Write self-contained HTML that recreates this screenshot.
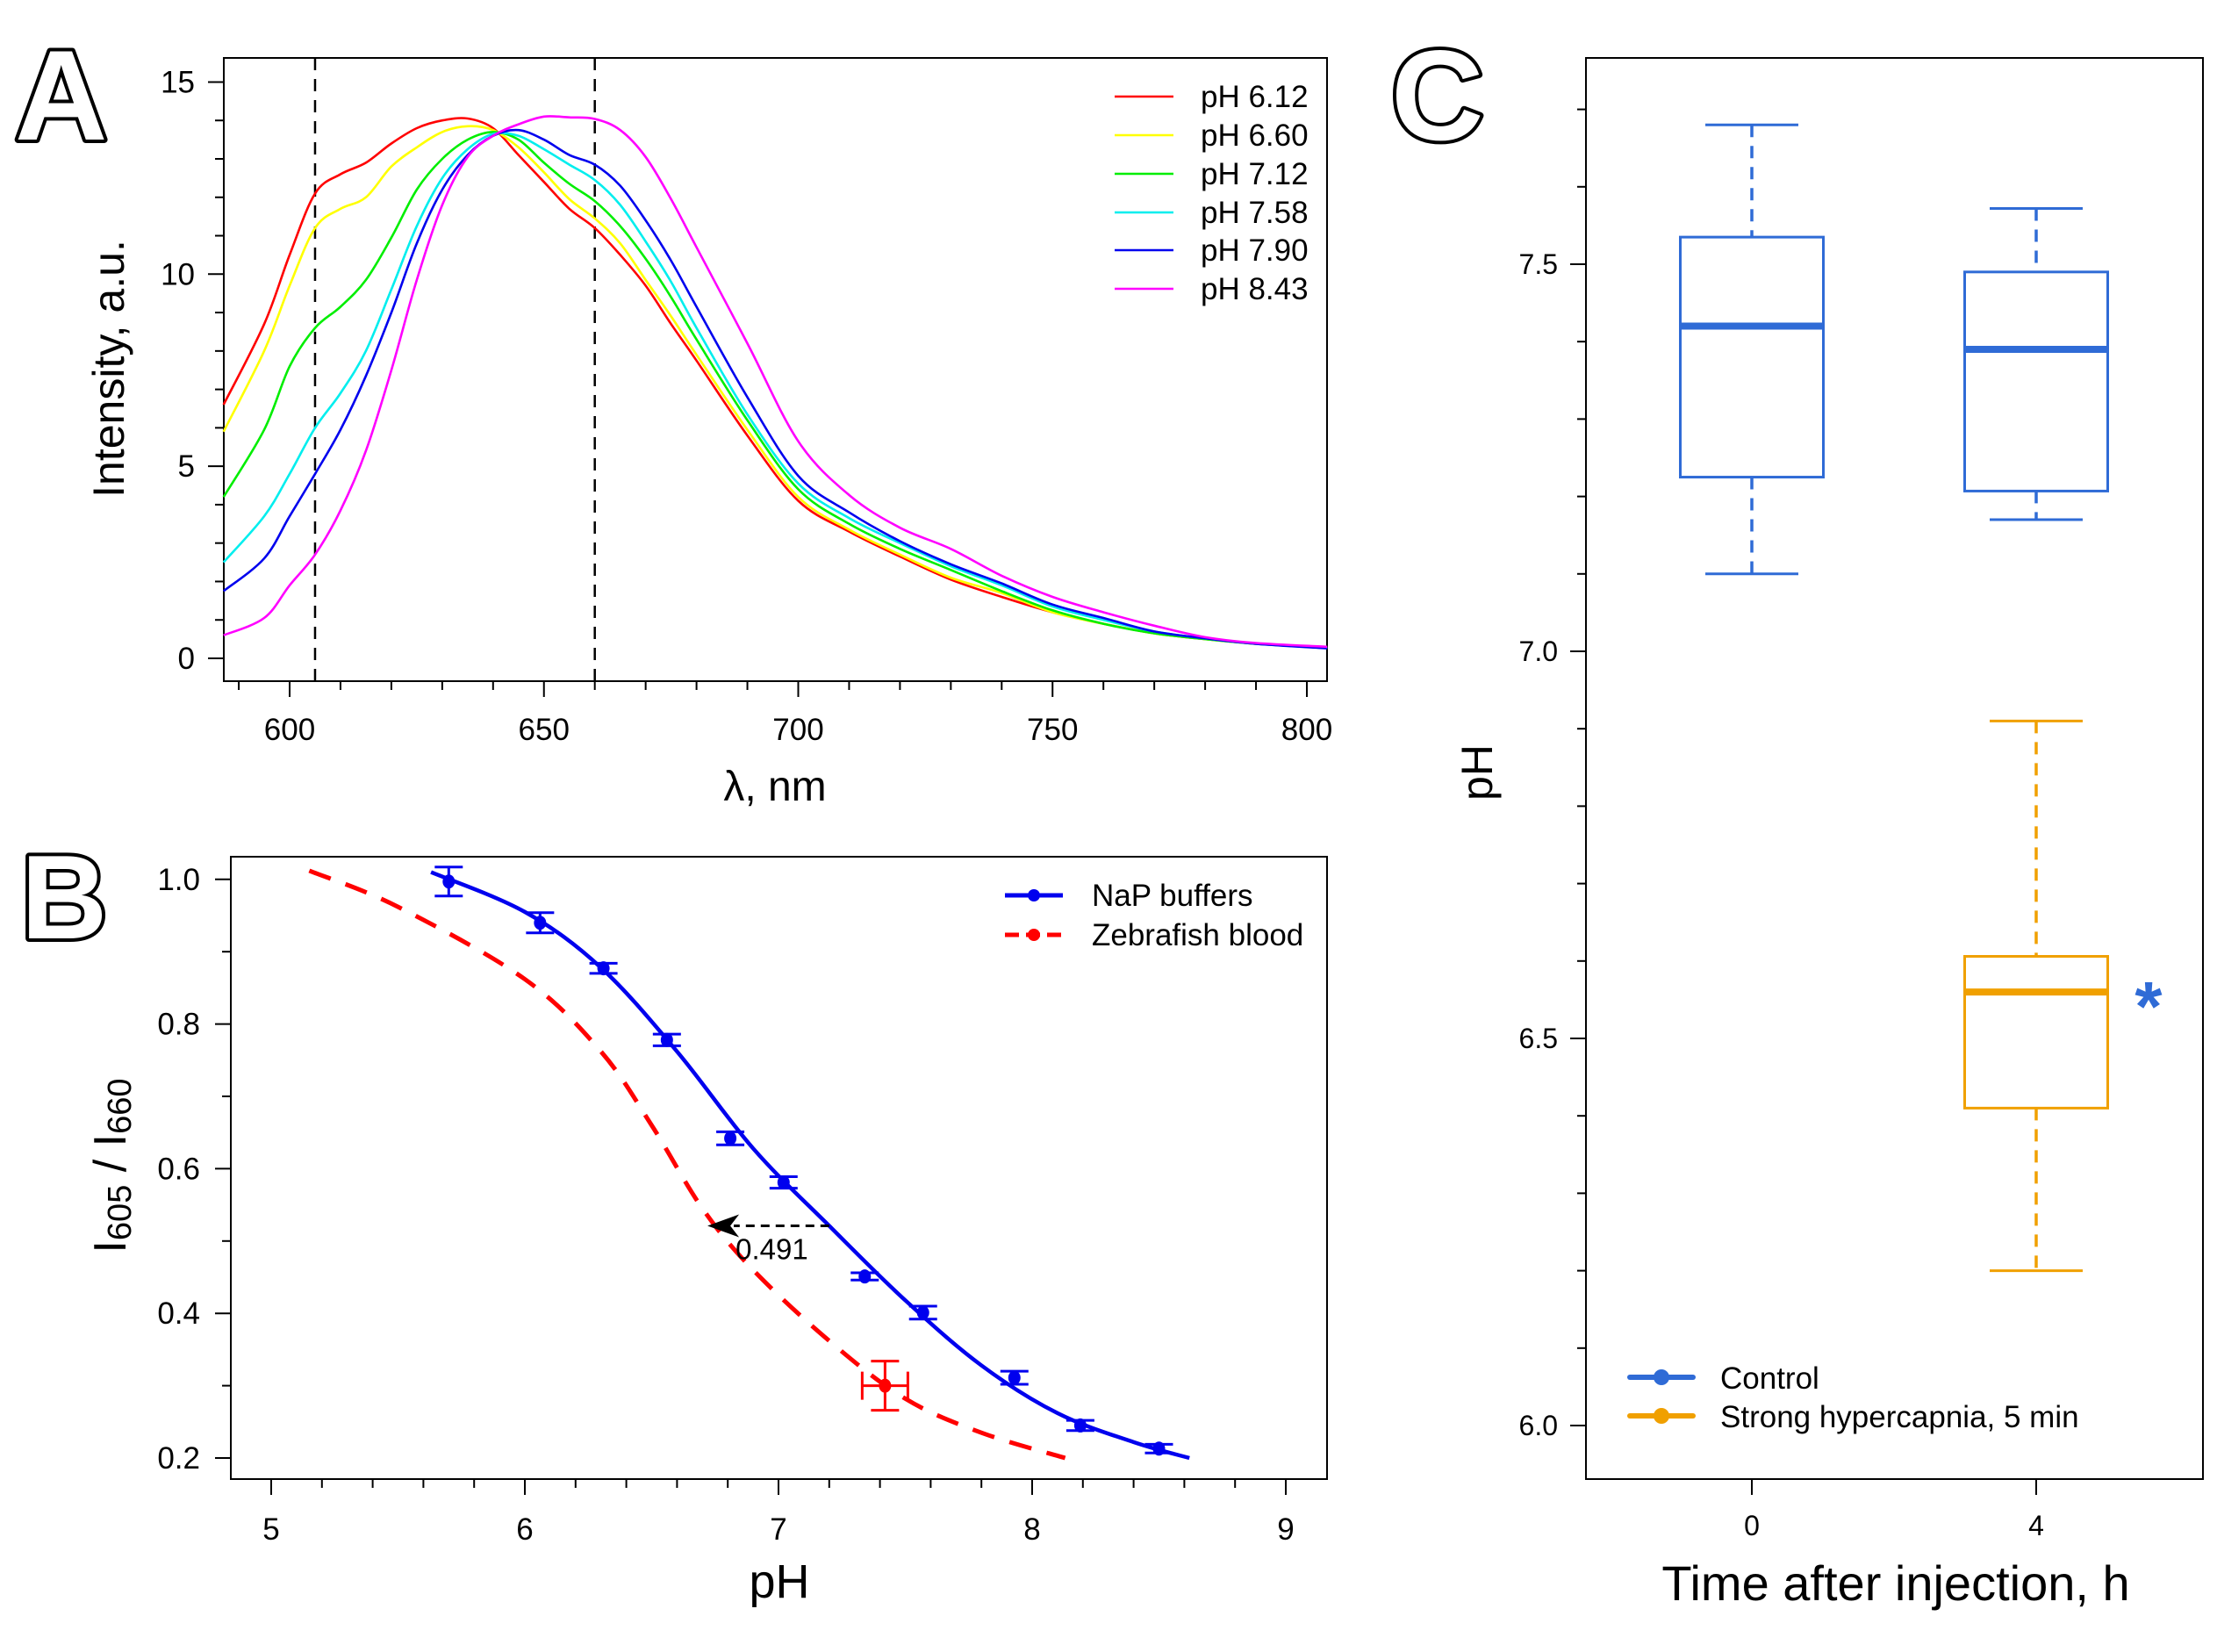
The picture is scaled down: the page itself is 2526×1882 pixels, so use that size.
<!DOCTYPE html>
<html><head><meta charset="utf-8"><title>pH sensor figure</title>
<style>
html,body{margin:0;padding:0;background:#fff;}
svg{display:block;font-family:"Liberation Sans",Arial,sans-serif;}
</style></head>
<body>
<svg id="fig" width="2526" height="1882" viewBox="0 0 2526 1882" xmlns="http://www.w3.org/2000/svg">
<rect x="0" y="0" width="2526" height="1882" fill="#fff"/>
<text x="17" y="159" font-size="146" font-weight="bold" fill="#fff" stroke="#000" stroke-width="8" stroke-linejoin="round" paint-order="stroke">A</text>
<text x="24" y="1069" font-size="136" font-weight="bold" fill="#fff" stroke="#000" stroke-width="8" stroke-linejoin="round" paint-order="stroke">B</text>
<text x="1585" y="159" font-size="146" font-weight="bold" fill="#fff" stroke="#000" stroke-width="8" stroke-linejoin="round" paint-order="stroke">C</text>
<g id="pa"></g>
<g id="pb"></g>
<g id="pc"></g>
</svg>
<script>
// ---------- Panel A data ----------
const wavelengths = [587,595,600,605,610,615,620,625,630,635,640,645,650,655,660,665,670,675,680,690,700,710,720,730,740,750,760,770,780,790,804];
const spec612 = [6.6,8.7,10.5,12.1,12.6,12.9,13.4,13.8,14.0,14.05,13.8,13.1,12.4,11.7,11.2,10.5,9.7,8.7,7.75,5.8,4.1,3.3,2.65,2.05,1.6,1.2,0.9,0.65,0.5,0.38,0.27];
const spec660 = [5.9,8.0,9.7,11.2,11.7,12.0,12.8,13.3,13.7,13.85,13.75,13.3,12.65,11.95,11.45,10.8,9.85,8.9,7.9,5.95,4.2,3.35,2.7,2.1,1.7,1.2,0.9,0.65,0.5,0.38,0.27];
const spec712 = [4.2,5.95,7.6,8.6,9.15,9.85,10.95,12.2,13.0,13.5,13.7,13.5,12.9,12.35,11.9,11.25,10.4,9.4,8.3,6.2,4.4,3.5,2.85,2.3,1.75,1.25,0.9,0.65,0.5,0.38,0.27];
const spec758 = [2.5,3.7,4.8,6.0,6.9,8.0,9.6,11.25,12.5,13.25,13.65,13.6,13.25,12.85,12.45,11.8,10.85,9.8,8.6,6.35,4.55,3.65,3.0,2.4,1.9,1.35,1.0,0.7,0.52,0.38,0.27];
const spec790 = [1.75,2.6,3.7,4.8,5.95,7.35,9.0,10.8,12.2,13.1,13.6,13.75,13.5,13.1,12.85,12.3,11.4,10.35,9.15,6.8,4.75,3.8,3.05,2.45,1.95,1.4,1.05,0.7,0.52,0.38,0.26];
const spec843 = [0.6,1.05,1.9,2.7,3.85,5.4,7.5,9.85,11.8,13.05,13.6,13.9,14.1,14.08,14.04,13.75,13.05,11.95,10.7,8.2,5.65,4.25,3.4,2.85,2.15,1.6,1.2,0.85,0.55,0.4,0.3];
const seriesLabels = ["pH 6.12","pH 6.60","pH 7.12","pH 7.58","pH 7.90","pH 8.43"];
const seriesColors = ["#ff0000","#ffff00","#00ee00","#00eeee","#0000ee","#ff00ff"];
const aXTicks = [600,650,700,750,800];
const aYTicks = [0,5,10,15];
const markerLines = [605,660];

// ---------- Panel B data ----------
const bufPH = [5.70,6.06,6.31,6.56,6.81,7.02,7.34,7.57,7.93,8.19,8.50];
const bufRatio = [0.997,0.940,0.877,0.778,0.642,0.581,0.451,0.401,0.311,0.245,0.213];
const bufErr = [0.020,0.014,0.007,0.008,0.009,0.008,0.005,0.009,0.009,0.007,0.006];
const fitBufPH = [5.63,6.0,6.3,6.6,6.9,7.2,7.5,7.8,8.1,8.4,8.62];
const fitBufRatio = [1.01,0.955,0.878,0.762,0.628,0.521,0.418,0.328,0.262,0.222,0.200];
const fitBloodPH = [5.15,5.5,6.0,6.3,6.5,6.7,6.9,7.2,7.5,7.8,8.13];
const fitBloodRatio = [1.012,0.962,0.862,0.762,0.66,0.545,0.46,0.362,0.282,0.235,0.20];
const bloodPH = [7.42];
const bloodRatio = [0.30];
const bloodYErr = [0.034];
const bloodXErr = [0.09];
const shiftFrom = [7.20];
const shiftTo = [6.72];
const shiftLevel = [0.521];
const shiftLabel = ["0.491"];
const bXTicks = [5,6,7,8,9];
const bYTicks = [0.2,0.4,0.6,0.8,1.0];

// ---------- Panel C data ----------
const groupTimes = [0,4,4];
const groupNames = ["control-0h","control-4h","hypercapnia-4h"];
const whiskHigh = [7.68,7.572,6.91];
const boxHigh = [7.535,7.49,6.606];
const medians = [7.42,7.39,6.56];
const boxLow = [7.225,7.207,6.41];
const whiskLow = [7.10,7.17,6.20];
const groupColors = ["#2f6bd6","#2f6bd6","#f0a000"];
const cYTicks = [6.0,6.5,7.0,7.5];
const cXTicks = [0,4];

const NS = "http://www.w3.org/2000/svg";
function mk(parent, tag, attrs, txt){
  const el = document.createElementNS(NS, tag);
  for (const k in attrs) el.setAttribute(k, attrs[k]);
  if (txt !== undefined) el.textContent = txt;
  parent.appendChild(el);
  return el;
}
function smoothPath(pts){
  let d = "M" + pts[0][0].toFixed(1) + "," + pts[0][1].toFixed(1);
  for (let i=0;i<pts.length-1;i++){
    const p0 = pts[Math.max(0,i-1)], p1 = pts[i], p2 = pts[i+1], p3 = pts[Math.min(pts.length-1,i+2)];
    const c1x = p1[0]+(p2[0]-p0[0])/6, c1y = p1[1]+(p2[1]-p0[1])/6;
    const c2x = p2[0]-(p3[0]-p1[0])/6, c2y = p2[1]-(p3[1]-p1[1])/6;
    d += " C"+c1x.toFixed(1)+","+c1y.toFixed(1)+" "+c2x.toFixed(1)+","+c2y.toFixed(1)+" "+p2[0].toFixed(1)+","+p2[1].toFixed(1);
  }
  return d;
}

// ================= Panel A =================
(function(){
  const g = document.getElementById('pa');
  const L=255, R=1512, T=66, B=776;
  const xA = v => 330 + (v-600)*5.795;
  const yA = v => 750 - v*43.77;
  let el;
  el = mk(g,'rect',{x:L,y:T,width:R-L,height:B-T,fill:'none',stroke:'#000','stroke-width':2});
  
  
  for (let w=590; w<=800; w+=10){
    const major = (w%50===0);
    el = mk(g,'line',{x1:xA(w),x2:xA(w),y1:B,y2:B+(major?18:10),stroke:'#000','stroke-width':2});
    
    
  }
  aXTicks.forEach(v=>{
    el = mk(g,'text',{x:xA(v),y:843,'font-size':35,'text-anchor':'middle'},String(v));
    
    
  });
  for (let v=0; v<=15; v++){
    const major = (v%5===0);
    el = mk(g,'line',{x1:L,x2:L-(major?18:10),y1:yA(v),y2:yA(v),stroke:'#000','stroke-width':2});
    
    
  }
  aYTicks.forEach(v=>{
    el = mk(g,'text',{x:222,y:yA(v)+12,'font-size':35,'text-anchor':'end'},String(v));
    
    
  });
  el = mk(g,'text',{x:883,y:912,'font-size':48,'text-anchor':'middle'},"λ, nm");
  
  
  el = mk(g,'text',{x:0,y:0,'font-size':50,'text-anchor':'middle',transform:'translate(141,420) rotate(-90)'},"Intensity, a.u.");
  
  
  markerLines.forEach(w=>{
    el = mk(g,'line',{x1:xA(w),x2:xA(w),y1:T,y2:B,stroke:'#000','stroke-width':2.5,'stroke-dasharray':'14,10'});
    
    
  });
  const allSpec = [spec612,spec660,spec712,spec758,spec790,spec843];
  allSpec.forEach((s,i)=>{
    const pts = wavelengths.map((w,j)=>[xA(w),yA(s[j])]);
    el = mk(g,'path',{d:smoothPath(pts),fill:'none',stroke:seriesColors[i],'stroke-width':2.6});
    
    
  });
  const legY = [110,154,198,242,285,329];
  seriesLabels.forEach((lab,i)=>{
    el = mk(g,'line',{x1:1270,x2:1337,y1:legY[i],y2:legY[i],stroke:seriesColors[i],'stroke-width':2.6});
    
    
    el = mk(g,'text',{x:1368,y:legY[i]+12,'font-size':35},lab);
    
    
  });
})();

// ================= Panel B =================
(function(){
  const g = document.getElementById('pb');
  const L=263, R=1512, T=976, B=1685;
  const xB = v => 309 + (v-5)*289;
  const yB = v => 1661 - (v-0.2)*824;
  let el;
  el = mk(g,'rect',{x:L,y:T,width:R-L,height:B-T,fill:'none',stroke:'#000','stroke-width':2});
  
  
  for (let k=0; k<=20; k++){
    const v = 5 + k*0.2;
    const major = (k%5===0);
    el = mk(g,'line',{x1:xB(v),x2:xB(v),y1:B,y2:B+(major?18:10),stroke:'#000','stroke-width':2});
    
    
  }
  bXTicks.forEach(v=>{
    el = mk(g,'text',{x:xB(v),y:1754,'font-size':35,'text-anchor':'middle'},String(v));
    
    
  });
  for (let k=2; k<=10; k++){
    const v = k*0.1;
    const major = (k%2===0);
    el = mk(g,'line',{x1:L,x2:L-(major?18:10),y1:yB(v),y2:yB(v),stroke:'#000','stroke-width':2});
    
    
  }
  bYTicks.forEach(v=>{
    el = mk(g,'text',{x:228,y:yB(v)+12,'font-size':35,'text-anchor':'end'},v.toFixed(1));
    
    
  });
  el = mk(g,'text',{x:888,y:1820,'font-size':54,'text-anchor':'middle'},"pH");
  
  
  const yt = mk(g,'text',{x:0,y:0,'font-size':52,'text-anchor':'middle',transform:'translate(143,1328) rotate(-90)'});
  
  
  mk(yt,'tspan',{},"I");
  mk(yt,'tspan',{'font-size':38,dy:6},"605");
  mk(yt,'tspan',{dy:-6}," / I");
  mk(yt,'tspan',{'font-size':38,dy:6},"660");
  // fits
  el = mk(g,'path',{d:smoothPath(fitBloodPH.map((p,i)=>[xB(p),yB(fitBloodRatio[i])])),fill:'none',stroke:'#ff0000','stroke-width':5,'stroke-dasharray':'26,18'});
  
  
  el = mk(g,'path',{d:smoothPath(fitBufPH.map((p,i)=>[xB(p),yB(fitBufRatio[i])])),fill:'none',stroke:'#0000ee','stroke-width':4.5});
  
  
  bufPH.forEach((p,i)=>{
    const x = xB(p), y1 = yB(bufRatio[i]+bufErr[i]), y2 = yB(bufRatio[i]-bufErr[i]);
    el = mk(g,'path',{d:`M${x},${y1}V${y2}M${x-16},${y1}H${x+16}M${x-16},${y2}H${x+16}`,stroke:'#0000ee','stroke-width':3,fill:'none'});
    
    
    el = mk(g,'ellipse',{cx:x,cy:yB(bufRatio[i]),rx:7,ry:8,fill:'#0000ee'});
    
    
  });
  bloodPH.forEach((p,i)=>{
    const x = xB(p), y = yB(bloodRatio[i]);
    const y1 = yB(bloodRatio[i]+bloodYErr[i]), y2 = yB(bloodRatio[i]-bloodYErr[i]);
    const x1 = xB(p-bloodXErr[i]), x2 = xB(p+bloodXErr[i]);
    el = mk(g,'path',{d:`M${x},${y1}V${y2}M${x-16},${y1}H${x+16}M${x-16},${y2}H${x+16}M${x1},${y}H${x2}M${x1},${y-16}V${y+16}M${x2},${y-16}V${y+16}`,stroke:'#ff0000','stroke-width':3,fill:'none'});
    
    
    el = mk(g,'ellipse',{cx:x,cy:y,rx:7,ry:8,fill:'#ff0000'});
    
    
  });
  shiftFrom.forEach((p,i)=>{
    const y = yB(shiftLevel[i]), xs = xB(p), xe = xB(shiftTo[i]);
    el = mk(g,'line',{x1:xs,x2:xe+30,y1:y,y2:y,stroke:'#000','stroke-width':3,'stroke-dasharray':'10,7'});
    
    
    el = mk(g,'path',{d:`M${xe},${y} L${xe+36},${y-13} L${xe+26},${y} L${xe+36},${y+13} Z`,fill:'#000'});
    
    
    el = mk(g,'text',{x:xB((p+shiftTo[i])/2)+4,y:y+38,'font-size':33,'text-anchor':'middle'},shiftLabel[i]);
    
    
  });
  el = mk(g,'line',{x1:1145,x2:1211,y1:1020,y2:1020,stroke:'#0000ee','stroke-width':5});
  
  
  el = mk(g,'circle',{cx:1178,cy:1020,r:7,fill:'#0000ee'});
  
  
  el = mk(g,'text',{x:1244,y:1032,'font-size':35},"NaP buffers");
  
  
  el = mk(g,'line',{x1:1145,x2:1211,y1:1065,y2:1065,stroke:'#ff0000','stroke-width':5,'stroke-dasharray':'16,8'});
  
  
  el = mk(g,'circle',{cx:1178,cy:1065,r:7,fill:'#ff0000'});
  
  
  el = mk(g,'text',{x:1244,y:1077,'font-size':35},"Zebrafish blood");
  
  
})();

// ================= Panel C =================
(function(){
  const g = document.getElementById('pc');
  const L=1807, R=2510, T=66, B=1685;
  const xC = v => 1996 + v*81;
  const yC = v => 1624 - (v-6.0)*882;
  const hw = 81.5;
  let el;
  el = mk(g,'rect',{x:L,y:T,width:R-L,height:B-T,fill:'none',stroke:'#000','stroke-width':2});
  
  
  for (let k=0; k<=17; k++){
    const v = 6.0 + k*0.1;
    const major = (k%5===0);
    el = mk(g,'line',{x1:L,x2:L-(major?18:10),y1:yC(v),y2:yC(v),stroke:'#000','stroke-width':2});
    
    
  }
  cYTicks.forEach(v=>{
    el = mk(g,'text',{x:1775,y:yC(v)+11,'font-size':32,'text-anchor':'end'},v.toFixed(1));
    
    
  });
  cXTicks.forEach(v=>{
    el = mk(g,'line',{x1:xC(v),x2:xC(v),y1:B,y2:B+18,stroke:'#000','stroke-width':2});
    
    
    el = mk(g,'text',{x:xC(v),y:1749,'font-size':32,'text-anchor':'middle'},String(v));
    
    
  });
  el = mk(g,'text',{x:2160,y:1823,'font-size':56,'text-anchor':'middle'},"Time after injection, h");
  
  
  el = mk(g,'text',{x:0,y:0,'font-size':50,'text-anchor':'middle',transform:'translate(1700,880) rotate(-90)'},"pH");
  
  
  groupTimes.forEach((t,i)=>{
    const x = xC(t), c = groupColors[i];
    el = mk(g,'path',{d:`M${x},${yC(whiskHigh[i])}V${yC(boxHigh[i])}M${x},${yC(boxLow[i])}V${yC(whiskLow[i])}`,stroke:c,'stroke-width':3.5,'stroke-dasharray':'14,10',fill:'none'});
    
    
    el = mk(g,'path',{d:`M${x-hw*0.65},${yC(whiskHigh[i])}H${x+hw*0.65}M${x-hw*0.65},${yC(whiskLow[i])}H${x+hw*0.65}`,stroke:c,'stroke-width':3,fill:'none'});
    
    
    el = mk(g,'rect',{x:x-hw,y:yC(boxHigh[i]),width:2*hw,height:yC(boxLow[i])-yC(boxHigh[i]),fill:'none',stroke:c,'stroke-width':3});
    
    
    el = mk(g,'line',{x1:x-hw,x2:x+hw,y1:yC(medians[i]),y2:yC(medians[i]),stroke:c,'stroke-width':8});
    
    
  });
  el = mk(g,'text',{x:2448,y:yC(medians[2])+44,'font-size':80,'font-weight':'bold','fill':'#2f6bd6','text-anchor':'middle'},"*");
  
  
  el = mk(g,'line',{x1:1857,x2:1929,y1:1569,y2:1569,stroke:'#2f6bd6','stroke-width':6,'stroke-linecap':'round'});
  
  
  el = mk(g,'circle',{cx:1893,cy:1569,r:9,fill:'#2f6bd6'});
  
  
  el = mk(g,'text',{x:1960,y:1582,'font-size':35},"Control");
  
  
  el = mk(g,'line',{x1:1857,x2:1929,y1:1613,y2:1613,stroke:'#f0a000','stroke-width':6,'stroke-linecap':'round'});
  
  
  el = mk(g,'circle',{cx:1893,cy:1613,r:9,fill:'#f0a000'});
  
  
  el = mk(g,'text',{x:1960,y:1626,'font-size':35},"Strong hypercapnia, 5 min");
  
  
})();
</script>
</body></html>
